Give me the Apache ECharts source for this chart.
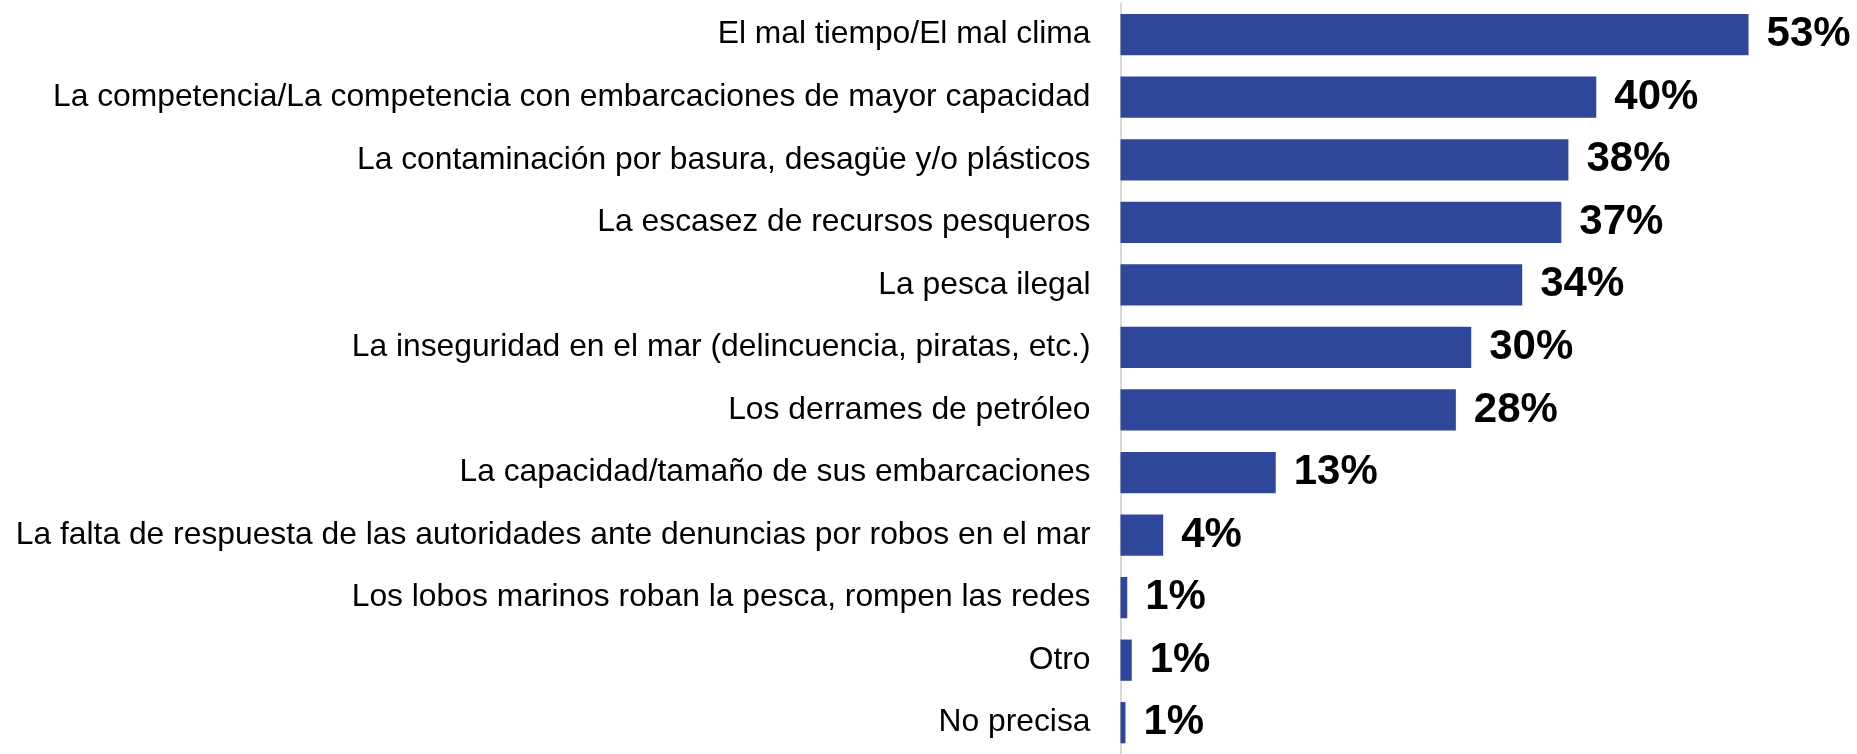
<!DOCTYPE html>
<html>
<head>
<meta charset="utf-8">
<script src="https://cdn.jsdelivr.net/npm/echarts@6/dist/echarts.min.js"></script>
<style>
  html, body { margin: 0; padding: 0; background: #fff; }
  #chart { width: 1857px; height: 754px; }
</style>
</head>
<body>
<div id="chart"></div>
<script>
// categorías (de arriba hacia abajo)
const categories = [
  'El mal tiempo/El mal clima',
  'La competencia/La competencia con embarcaciones de mayor capacidad',
  'La contaminación por basura, desagüe y/o plásticos',
  'La escasez de recursos pesqueros',
  'La pesca ilegal',
  'La inseguridad en el mar (delincuencia, piratas, etc.)',
  'Los derrames de petróleo',
  'La capacidad/tamaño de sus embarcaciones',
  'La falta de respuesta de las autoridades ante denuncias por robos en el mar',
  'Los lobos marinos roban la pesca, rompen las redes',
  'Otro',
  'No precisa'
]
const values = [53.0, 40.15, 37.8, 37.2, 33.9, 29.6, 28.3, 13.1, 3.6, 0.57, 0.95, 0.42]
// etiquetas mostradas
const pctLabels = ['53%', '40%', '38%', '37%', '34%', '30%', '28%', '13%', '4%', '1%', '1%', '1%']

let myChart = echarts.init(document.getElementById('chart'))
myChart.setOption({
  animation: false,
  grid: {
    left: 1120.5,
    top: 3.4,
    width: 711,
    height: 758.4,
    containLabel: false
  },
  xAxis: {
    type: 'value',
    min: 0,
    max: 60,
    show: false
  },
  yAxis: {
    type: 'category',
    inverse: true,
    data: categories,
    axisLine: {
      lineStyle: {
        color: '#d9d9d9',
        width: 2
      }
    },
    axisTick: { show: false },
    axisLabel: {
      margin: 30,
      color: '#000',
      fontFamily: 'Liberation Sans, Arial, sans-serif',
      fontSize: 31.8
    }
  },
  series: [{
    type: 'bar',
    data: values,
    barCategoryGap: '34%',
    itemStyle: {
      color: '#2f479b'
    },
    label: {
      show: true,
      position: 'right',
      distance: 18,
      color: '#000',
      fontWeight: 'bold',
      fontFamily: 'Liberation Sans, Arial, sans-serif',
      fontSize: 42,
      formatter: (p) => pctLabels[p.dataIndex]
    }
  }]
})
</script>
</body>
</html>
